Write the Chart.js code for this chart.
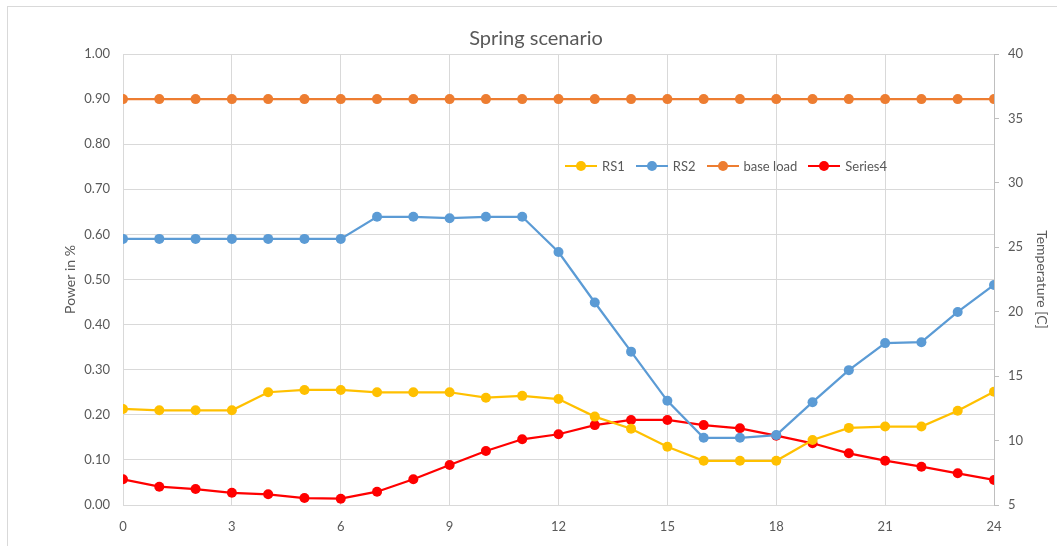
<!DOCTYPE html>
<html>
<head>
<meta charset="utf-8">
<script src="https://cdn.jsdelivr.net/npm/chart.js@4.4.1/dist/chart.umd.min.js"></script>
<style>
  html, body { margin: 0; padding: 0; background: #fff; }
  #wrap { position: relative; width: 1057px; height: 546px; }
  #frame { position: absolute; left: 7px; top: 6px; right: -5px; bottom: -5px; border: 1px solid #d9d9d9; }
  #legend { position: absolute; left: 565px; top: 157px; display: flex; align-items: center;
            font-family: Lato, "Open Sans", sans-serif; font-size: 13px; color: #595959; }
  .item { display: flex; align-items: center; margin-right: 11px; }
  .mark { position: relative; width: 32px; height: 18px; margin-right: 5px; }
  .mark .ln { position: absolute; left: 0; right: 0; top: 8px; height: 2px; }
  .mark .dot { position: absolute; left: 11px; top: 4px; width: 10px; height: 10px; border-radius: 50%; }
</style>
</head>
<body>
<div id="wrap">
  <div id="frame"></div>
  <canvas id="chart" width="1057" height="546"></canvas>
  <div id="legend"></div>
</div>
<script>
// Dados
const hours = [0, 1, 2, 3, 4, 5, 6, 7, 8, 9, 10, 11, 12, 13, 14, 15, 16, 17, 18, 19, 20, 21, 22, 23, 24];
const rs1 = [0.213, 0.21, 0.21, 0.21, 0.25, 0.255, 0.255, 0.25, 0.25, 0.25, 0.238, 0.242, 0.235, 0.196, 0.169, 0.129, 0.098, 0.098, 0.098, 0.144, 0.171, 0.174, 0.174, 0.209, 0.251];
const rs2 = [0.59, 0.59, 0.59, 0.59, 0.59, 0.59, 0.59, 0.639, 0.639, 0.636, 0.639, 0.639, 0.561, 0.449, 0.34, 0.231, 0.149, 0.149, 0.155, 0.228, 0.299, 0.359, 0.361, 0.428, 0.488];
const baseLoad = [0.9, 0.9, 0.9, 0.9, 0.9, 0.9, 0.9, 0.9, 0.9, 0.9, 0.9, 0.9, 0.9, 0.9, 0.9, 0.9, 0.9, 0.9, 0.9, 0.9, 0.9, 0.9, 0.9, 0.9, 0.9];
const series4 = [7.0, 6.42, 6.24, 5.95, 5.83, 5.54, 5.49, 6.03, 7.0, 8.1, 9.19, 10.1, 10.49, 11.2, 11.6, 11.6, 11.2, 10.95, 10.38, 9.79, 9.01, 8.44, 7.97, 7.46, 6.94];

const seriesNames = ['RS1', 'RS2', 'base load', 'Series4'];
const seriesColors = ['#FFC000', '#5B9BD5', '#ED7D31', '#FF0000'];

const fontFamily = 'Lato, "Open Sans", sans-serif';
const textColor = '#595959';
const gridColor = '#d9d9d9';

function toPoints(values) {
    return hours.map((h, i) => ({ x: h, y: values[i] }));
}

function makeDataset(label, values, color, axis) {
    return {
        label: label,
        data: toPoints(values),
        borderColor: color,
        backgroundColor: color,
        borderWidth: 2.25,
        pointRadius: 5,
        pointHoverRadius: 5,
        pointBorderWidth: 0,
        tension: 0,
        yAxisID: axis
    };
}

const datasets = [
    makeDataset(seriesNames[0], rs1, seriesColors[0], 'y'),
    makeDataset(seriesNames[1], rs2, seriesColors[1], 'y'),
    makeDataset(seriesNames[2], baseLoad, seriesColors[2], 'y'),
    makeDataset(seriesNames[3], series4, seriesColors[3], 'y1')
];

new Chart(document.getElementById('chart'), {
    type: 'line',
    data: { datasets: datasets },
    options: {
        responsive: false,
        animation: false,
        layout: { padding: { left: 20, right: 5, top: 0, bottom: 0 } },
        plugins: {
            legend: { display: false },
            tooltip: { enabled: false },
            title: {
                display: true,
                text: 'Spring scenario',
                color: textColor,
                font: { family: fontFamily, size: 20, weight: 'normal' },
                padding: { top: 27, bottom: 3 }
            }
        },
        scales: {
            x: {
                type: 'linear',
                min: 0,
                max: 24,
                ticks: { stepSize: 3, color: textColor, font: { family: fontFamily, size: 13 }, padding: 14 },
                grid: { color: gridColor, drawTicks: false },
                border: { display: false },
                afterFit: function(scale) { scale.height = 41; }
            },
            y: {
                position: 'left',
                min: 0,
                max: 1,
                ticks: {
                    stepSize: 0.1,
                    color: textColor,
                    font: { family: fontFamily, size: 13 },
                    padding: 13,
                    callback: function(v) { return v.toFixed(2); }
                },
                grid: { color: gridColor, drawTicks: false },
                border: { color: gridColor },
                title: { display: true, text: 'Power in %', color: textColor, font: { family: fontFamily, size: 14 }, padding: { top: 42, bottom: 0 } },
                afterFit: function(scale) { scale.width = 123 - 20; }
            },
            y1: {
                position: 'right',
                min: 5,
                max: 40,
                ticks: { stepSize: 5, color: textColor, font: { family: fontFamily, size: 13 }, padding: 9 },
                grid: { drawOnChartArea: false, color: '#bfbfbf', tickLength: 5 },
                border: { color: '#bfbfbf' },
                title: { display: true, text: 'Temperature [C]', color: textColor, font: { family: fontFamily, size: 14 }, padding: 2 },
                afterFit: function(scale) { scale.width = 1057 - 994 - 5; }
            }
        }
    }
});

// Legenda em HTML, posicionada dentro da área do gráfico
const legendEl = document.getElementById('legend');
seriesNames.forEach((name, i) => {
    const item = document.createElement('div');
    item.className = 'item';
    item.innerHTML = '<div class="mark"><div class="ln" style="background:' + seriesColors[i] + '"></div>' +
        '<div class="dot" style="background:' + seriesColors[i] + '"></div></div><span>' + name + '</span>';
    legendEl.appendChild(item);
});
</script>
</body>
</html>
